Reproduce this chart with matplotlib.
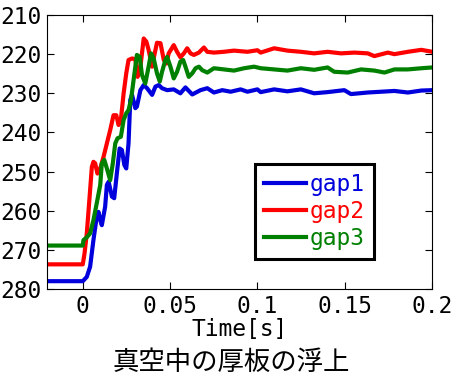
import matplotlib
matplotlib.use("Agg")
import matplotlib.pyplot as plt

# gap1 (blue)
t_gap1 = [-0.02, 0.0, 0.0023, 0.0042, 0.0061, 0.0080, 0.0090, 0.0100, 0.0109, 0.0128,
          0.0138, 0.0148, 0.0167, 0.0180, 0.0195, 0.0211, 0.0224, 0.0238, 0.0249, 0.0262,
          0.0272, 0.0282, 0.0301, 0.0310, 0.0330, 0.0349, 0.0368, 0.0397, 0.0416, 0.0435,
          0.0454, 0.0483, 0.0521, 0.0559, 0.0588, 0.0627, 0.0674, 0.0713, 0.0751, 0.0799,
          0.0847, 0.0904, 0.0943, 0.1000, 0.1019, 0.1096, 0.1172, 0.1249, 0.1325, 0.1402,
          0.1498, 0.1536, 0.1632, 0.1709, 0.1785, 0.1862, 0.1939, 0.2002]
gap1 = [278.0, 278.0, 276.9, 274.3, 267.5, 261.5, 260.3, 262.4, 263.7, 259.0,
        253.4, 252.6, 256.4, 256.8, 250.5, 244.1, 244.5, 248.3, 249.2, 242.8,
        231.7, 230.4, 233.8, 233.4, 229.2, 227.9, 228.7, 230.4, 228.3, 227.9,
        228.7, 229.2, 229.0, 230.0, 228.5, 230.3, 229.2, 228.7, 229.8, 229.2,
        229.6, 229.0, 229.6, 229.0, 229.7, 229.0, 229.5, 229.0, 230.0, 229.7,
        229.2, 230.2, 229.8, 229.6, 229.4, 229.8, 229.3, 229.2]

# gap2 (red)
t_gap2 = [-0.02, 0.0, 0.0010, 0.0023, 0.0042, 0.0052, 0.0061, 0.0071, 0.0084, 0.0100,
          0.0119, 0.0138, 0.0157, 0.0176, 0.0192, 0.0205, 0.0218, 0.0234, 0.0249, 0.0262,
          0.0282, 0.0301, 0.0314, 0.0330, 0.0349, 0.0364, 0.0377, 0.0397, 0.0410, 0.0425,
          0.0445, 0.0464, 0.0479, 0.0492, 0.0521, 0.0540, 0.0559, 0.0579, 0.0598, 0.0617,
          0.0636, 0.0665, 0.0694, 0.0713, 0.0751, 0.0808, 0.0866, 0.0943, 0.1000, 0.1019,
          0.1096, 0.1172, 0.1249, 0.1325, 0.1402, 0.1479, 0.1556, 0.1632, 0.1670, 0.1747,
          0.1785, 0.1862, 0.1939, 0.2002]
gap2 = [273.7, 273.7, 270.9, 265.8, 254.7, 248.8, 247.5, 247.9, 250.5, 249.2,
        246.2, 242.8, 239.4, 235.6, 235.6, 238.1, 236.8, 230.0, 224.9, 221.5,
        221.1, 221.3, 225.8, 223.2, 216.0, 216.8, 218.9, 223.2, 220.2, 217.1,
        217.2, 221.5, 222.4, 219.8, 217.7, 219.4, 220.8, 219.8, 218.5, 219.8,
        220.2, 219.6, 218.3, 219.4, 219.6, 219.4, 219.1, 219.4, 219.0, 219.6,
        218.5, 219.1, 219.4, 219.8, 219.4, 219.8, 219.6, 219.8, 220.5, 219.6,
        220.0, 219.4, 218.9, 219.4]

# gap3 (green)
t_gap3 = [-0.02, 0.0, 0.0004, 0.0023, 0.0042, 0.0061, 0.0080, 0.0100, 0.0109, 0.0123,
          0.0138, 0.0157, 0.0172, 0.0186, 0.0199, 0.0218, 0.0234, 0.0249, 0.0262, 0.0276,
          0.0291, 0.0310, 0.0326, 0.0339, 0.0358, 0.0377, 0.0391, 0.0406, 0.0425, 0.0441,
          0.0454, 0.0473, 0.0483, 0.0502, 0.0521, 0.0540, 0.0559, 0.0575, 0.0588, 0.0607,
          0.0627, 0.0646, 0.0665, 0.0684, 0.0713, 0.0751, 0.0808, 0.0866, 0.0924, 0.0981,
          0.1019, 0.1096, 0.1172, 0.1249, 0.1325, 0.1402, 0.1440, 0.1517, 0.1594, 0.1670,
          0.1728, 0.1785, 0.1862, 0.1939, 0.2002]
gap3 = [268.9, 268.9, 267.5, 266.8, 265.8, 262.4, 258.1, 253.4, 247.9, 247.0,
        249.2, 252.2, 247.9, 242.8, 241.5, 241.1, 236.8, 235.1, 234.3, 231.7,
        226.6, 220.2, 220.7, 225.3, 227.5, 223.2, 219.8, 221.1, 224.9, 227.0,
        224.5, 221.5, 220.7, 223.2, 226.2, 224.5, 221.9, 221.5, 223.2, 225.8,
        224.9, 223.6, 223.2, 224.1, 224.7, 223.6, 223.9, 224.2, 223.6, 223.2,
        223.6, 223.9, 224.2, 223.6, 224.0, 223.4, 224.5, 224.7, 223.9, 224.2,
        224.7, 223.9, 223.9, 223.6, 223.4]

x_ticks = [0, 0.05, 0.1, 0.15, 0.2]
x_tick_labels = ["0", "0.05", "0.1", "0.15", "0.2"]
y_ticks = [210, 220, 230, 240, 250, 260, 270, 280]

mono = ["DejaVu Sans Mono", "Noto Sans CJK JP"]

fig = plt.figure(figsize=(4.54, 3.77), dpi=100)
ax = fig.add_axes([0.1035, 0.2334, 0.848, 0.7268])

ax.plot(t_gap1, gap1, color="#0000dd", lw=3.0, label="gap1")
ax.plot(t_gap2, gap2, color="#ff0000", lw=3.0, label="gap2")
ax.plot(t_gap3, gap3, color="#008000", lw=3.0, label="gap3")

ax.set_xlim(-0.0205, 0.2)
ax.set_ylim(280, 210)
ax.set_xticks(x_ticks)
ax.set_xticklabels(x_tick_labels)
ax.set_yticks(y_ticks)
ax.tick_params(direction="in", top=True, right=True, length=5, width=0.8,
               labelsize=16.5, pad=4)
for lab in ax.get_xticklabels() + ax.get_yticklabels():
    lab.set_family(mono)
for sp in ax.spines.values():
    sp.set_linewidth(0.8)

ax.set_xlabel("Time[s]", family=mono, fontsize=16.5, labelpad=0)

leg = ax.legend(loc="lower right", bbox_to_anchor=(0.849, 0.109),
                prop={"family": mono, "size": 16.5}, frameon=True, fancybox=False,
                framealpha=1.0, handlelength=1.85, handletextpad=0.15,
                labelspacing=0.18, borderpad=0.4, borderaxespad=0)
leg.get_frame().set_edgecolor("black")
leg.get_frame().set_linewidth(2.2)
for txt, line in zip(leg.get_texts(), leg.get_lines()):
    txt.set_color(line.get_color())

fig.text(0.509, 0.038, "真空中の厚板の浮上", family=["Noto Sans CJK JP", "DejaVu Sans"],
         fontsize=19, ha="center", va="center")

fig.savefig("out.png", dpi=100)
